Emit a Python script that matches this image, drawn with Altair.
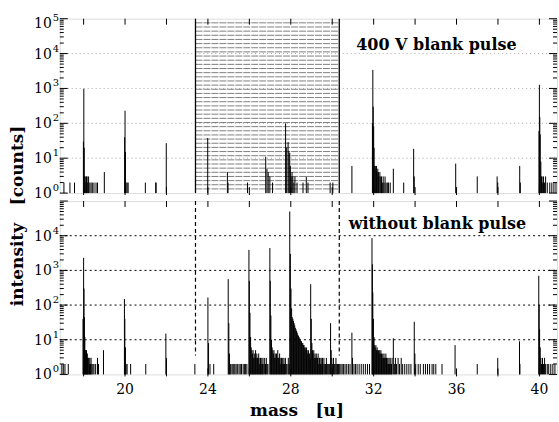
import altair as alt
import pandas as pd

# ---------------- data ----------------
# upper panel: 400 V blank pulse
top_mass = [17.05, 17.34, 17.56,
            17.99, 18.01, 18.03, 18.05, 18.08, 18.11, 18.14, 18.17, 18.20, 18.24, 18.30, 18.36, 18.42, 18.50, 18.60, 18.67, 19.00,
            19.98, 20.00, 20.02, 20.05, 20.10, 20.15, 20.98, 21.48, 21.50,
            21.99,
            23.99, 24.94, 24.97, 25.91, 26.79, 26.85, 26.91, 26.99, 27.12,
            27.75, 27.80, 27.87, 27.91, 27.95, 27.98, 28.02, 28.06, 28.10, 28.15, 28.20, 28.30, 28.59, 28.75, 28.83, 29.90, 30.03,
            30.95,
            31.94, 31.96, 31.98, 32.00, 32.02, 32.05, 32.08, 32.11, 32.14, 32.17, 32.20, 32.23, 32.26, 32.30, 32.34, 32.38, 32.42,
            32.46, 32.50, 32.55, 32.60, 32.66, 32.72, 32.80, 32.95, 33.45,
            33.93, 33.96, 35.96, 37.00, 37.96, 37.99, 39.05, 39.08,
            39.98, 40.00, 40.02, 40.04, 40.07, 40.10, 40.13, 40.16, 40.20, 40.25, 40.30, 40.38, 40.50, 40.60, 40.70, 40.80]
top_counts = [2, 2, 2,
              30, 980, 20, 3, 3, 2, 3, 3, 2, 3, 2, 2, 2, 2, 2, 2, 4,
              40, 230, 15, 2, 2, 2, 2, 2, 2,
              27,
              38, 4, 2, 2, 11, 5, 4, 3, 2,
              100, 20, 29, 16, 14, 6, 3, 4, 3, 2, 3, 2, 2, 3, 2, 2, 2,
              6,
              100, 3400, 300, 82, 20, 6, 6, 5, 6, 4, 5, 4, 3, 4, 3, 3, 2,
              3, 2, 3, 2, 2, 2, 2, 5, 2,
              18.5, 3, 7, 3, 3, 2, 6, 2,
              60, 1270, 150, 48, 8, 3, 3, 2, 3, 2, 3, 2, 2, 2, 2, 2]

# lower panel: without blank pulse
bot_mass = [16.95, 17.02, 17.10, 17.26,
            17.97, 18.00, 18.02, 18.04, 18.06, 18.08, 18.10, 18.12, 18.14, 18.16, 18.18, 18.20, 18.22, 18.25, 18.28, 18.30,
            18.33, 18.36, 18.40, 18.45, 18.50, 18.58, 18.67, 18.72, 18.96,
            19.97, 19.99, 20.02, 20.05, 20.10, 20.27, 21.00, 21.97, 22.00, 23.37,
            24.00, 24.03, 24.10, 24.28,
            24.98, 25.01, 25.04, 25.08, 25.12, 25.20, 25.25, 25.30, 25.36, 25.42, 25.50, 25.56, 25.62, 25.70, 25.76, 25.82, 25.88,
            25.98, 26.00, 26.03, 26.06, 26.09, 26.12, 26.15, 26.18, 26.21, 26.24, 26.27, 26.30, 26.33, 26.36, 26.39, 26.42,
            26.45, 26.48, 26.51, 26.54, 26.57, 26.60, 26.63, 26.66, 26.70, 26.74, 26.78, 26.82, 26.86, 26.90,
            26.99, 27.01, 27.04, 27.07, 27.10, 27.13, 27.16, 27.19, 27.22, 27.25, 27.28, 27.31, 27.34, 27.37, 27.40, 27.43,
            27.46, 27.49, 27.52, 27.55, 27.58, 27.61, 27.64, 27.67, 27.70, 27.74, 27.78, 27.82, 27.88, 27.92,
            27.95, 27.98, 28.01, 28.04, 28.07, 28.10, 28.13, 28.16, 28.19, 28.22, 28.25, 28.28, 28.31, 28.34, 28.37, 28.40,
            28.43, 28.46, 28.49, 28.52, 28.55, 28.58, 28.61, 28.64, 28.67, 28.70, 28.73, 28.76, 28.79, 28.82, 28.85, 28.88,
            28.91, 28.94,
            28.96, 28.99, 29.02, 29.05, 29.08, 29.11, 29.14, 29.17, 29.20, 29.23, 29.26, 29.29, 29.32, 29.35, 29.38, 29.41,
            29.44, 29.47, 29.50, 29.53, 29.56, 29.60, 29.64, 29.68, 29.72, 29.76, 29.80, 29.84, 29.88,
            29.92, 29.95, 29.98, 30.02, 30.06, 30.10, 30.14, 30.18, 30.22, 30.26, 30.30, 30.36, 30.42, 30.48, 30.55, 30.62,
            30.70, 30.78, 30.86,
            30.95, 30.98, 31.05, 31.12, 31.20, 31.30, 31.40, 31.50, 31.60, 31.70, 31.80,
            31.92, 31.94, 31.96, 31.99, 32.02, 32.05, 32.08, 32.11, 32.14, 32.17, 32.20, 32.23, 32.26, 32.29, 32.32, 32.35,
            32.38, 32.41, 32.44, 32.47, 32.50, 32.53, 32.56, 32.59, 32.62, 32.65, 32.68, 32.71, 32.74, 32.77, 32.80, 32.83,
            32.86, 32.89, 32.95, 33.00, 33.05, 33.10, 33.18, 33.25, 33.33, 33.40, 33.50, 33.60, 33.70, 33.80,
            33.96, 33.99, 34.03, 34.15, 34.25, 34.40, 34.50, 34.60, 34.70, 34.82, 34.90, 35.00, 35.30,
            35.93, 37.00, 37.99, 39.04, 39.06,
            39.97, 39.99, 40.01, 40.04, 40.07, 40.10, 40.15, 40.20, 40.25, 40.30, 40.38, 40.45, 40.55, 40.65, 40.75]
bot_counts = [2, 2, 2, 2,
              40, 2300, 300, 45, 12, 5, 5, 4, 5, 3, 4, 3, 3, 3, 2, 3,
              2, 3, 2, 2, 2, 2, 3, 2, 5,
              150, 40, 6, 2, 2, 2, 2, 15, 3, 2,
              165, 8, 2, 2,
              560, 30, 4, 2, 2, 2, 2, 2, 2, 2, 2, 2, 2, 2, 2, 2, 2,
              3900, 500, 60, 12, 6, 5, 4, 5, 3, 4, 3, 5, 3, 4, 3, 3,
              4, 2, 3, 3, 2, 3, 2, 3, 2, 3, 2, 3, 2, 2,
              4400, 500, 50, 10, 6, 5, 4, 5, 3, 4, 3, 4, 3, 5, 3, 3,
              4, 2, 3, 3, 2, 3, 2, 3, 2, 3, 2, 2, 3, 2,
              50000, 3000, 300, 80, 45, 40, 35, 30, 26, 22, 20, 18, 16, 14, 13, 12,
              11, 10, 9, 9, 8, 8, 7, 7, 6, 6, 5, 6, 5, 4, 5, 4,
              4, 3,
              400, 40, 8, 5, 4, 5, 3, 4, 3, 4, 3, 3, 4, 2, 3, 3,
              2, 3, 2, 3, 2, 3, 2, 2, 3, 2, 2, 2, 2,
              30, 5, 3, 2, 3, 2, 2, 3, 2, 2, 2, 2, 2, 2, 2, 2,
              2, 2, 2,
              16, 3, 2, 2, 2, 2, 2, 2, 2, 2, 2,
              8500, 1500, 230, 40, 12, 7, 6, 7, 5, 6, 5, 5, 4, 5, 4, 5,
              4, 3, 4, 3, 4, 3, 3, 4, 3, 2, 3, 2, 3, 2, 3, 2,
              2, 3, 11, 2, 3, 2, 3, 2, 3, 2, 2, 2, 2, 2,
              33, 4, 2, 2, 2, 2, 2, 2, 2, 2, 2, 2, 2,
              7, 2, 3, 9, 2,
              700, 100, 20, 6, 3, 2, 3, 2, 3, 2, 2, 2, 2, 2, 2]

blanked_range = [23.40, 30.34]          # mass window blanked by the pulse
x_tick_values = [18, 20, 22, 24, 26, 28, 30, 32, 34, 36, 38, 40]
x_label_values = [20, 24, 28, 32, 36, 40]
decades = [1, 10, 100, 1000, 10000, 100000]
exponents = ["0", "1", "2", "3", "4", "5"]
minor_values = [m * d for d in [1, 10, 100, 1000, 10000] for m in range(2, 10)]

# ---------------- styling ----------------
W, H_TOP, H_BOT = 499, 175, 174
SERIF = "DejaVu Serif"
NB = "\u00a0"
x_scale = alt.Scale(domain=[16.85, 40.85], nice=False, zero=False)
y_scale = alt.Scale(type="log", domain=[1, 100000], nice=False)


def spectrum(mass, counts):
    df = pd.DataFrame({"mass": mass, "counts": counts, "base": [1] * len(mass)})
    return alt.Chart(df).mark_rule(color="black", strokeWidth=1).encode(
        x=alt.X("mass:Q", scale=x_scale, axis=None),
        y=alt.Y("counts:Q", scale=y_scale, axis=None),
        y2="base:Q",
    )


def grid(color, dash):
    df = pd.DataFrame({"v": decades[1:-1]})
    return alt.Chart(df).mark_rule(color=color, strokeWidth=1, strokeDash=dash).encode(
        y=alt.Y("v:Q", scale=y_scale, axis=None), x=alt.value(0), x2=alt.value(W))


def y_labels(n_labels, shift_top):
    df = pd.DataFrame({"v": decades[:n_labels], "e": exponents[:n_labels]})
    layers = []
    for sel, extra in [("datum.v < 50000", 0), ("datum.v >= 50000", shift_top)]:
        base = alt.Chart(df).transform_filter(sel)
        layers.append(base.mark_text(font=SERIF, fontSize=14, color="black", align="right",
                                     baseline="middle", dy=1 + extra).encode(
            y=alt.Y("v:Q", scale=y_scale, axis=None), x=alt.value(-8), text=alt.value("10")))
        layers.append(base.mark_text(font=SERIF, fontSize=10, color="black", align="left",
                                     baseline="middle", dy=-5 + extra).encode(
            y=alt.Y("v:Q", scale=y_scale, axis=None), x=alt.value(-7), text="e:N"))
    return layers


def frame_ticks(height):
    xt = pd.DataFrame({"x": x_tick_values})
    bot = alt.Chart(xt).mark_rule(color="black", strokeWidth=1).encode(
        x=alt.X("x:Q", scale=x_scale, axis=None), y=alt.value(height + 2), y2=alt.value(height - 6))
    top = alt.Chart(xt).mark_rule(color="black", strokeWidth=1).encode(
        x=alt.X("x:Q", scale=x_scale, axis=None), y=alt.value(0), y2=alt.value(6))
    mn = pd.DataFrame({"v": minor_values})
    mj = pd.DataFrame({"v": decades})
    layers = [bot, top]
    for df, ln in [(mn, 4), (mj, 8)]:
        layers.append(alt.Chart(df).mark_rule(color="black", strokeWidth=1).encode(
            y=alt.Y("v:Q", scale=y_scale, axis=None), x=alt.value(0), x2=alt.value(ln)))
        layers.append(alt.Chart(df).mark_rule(color="black", strokeWidth=1).encode(
            y=alt.Y("v:Q", scale=y_scale, axis=None), x=alt.value(W), x2=alt.value(W - ln)))
    return layers


def label(text, x, y, size=16, angle=0):
    return alt.Chart(pd.DataFrame({"t": [text]})).mark_text(
        font=SERIF, fontWeight="bold", fontSize=size, color="black", angle=angle,
        align="center", baseline="middle").encode(x=alt.value(x), y=alt.value(y), text="t:N")


# ---------------- upper panel ----------------
hatch_levels = [10 ** (5 * i / 42) for i in range(1, 42)]
hatch_df = pd.DataFrame({"lvl": hatch_levels, "x1": [blanked_range[0]] * 41, "x2": [blanked_range[1]] * 41})
hatch = alt.Chart(hatch_df).mark_rule(color="#808080", strokeWidth=1, strokeDash=[7, 1]).encode(
    x=alt.X("x1:Q", scale=x_scale, axis=None), x2="x2:Q",
    y=alt.Y("lvl:Q", scale=y_scale, axis=None))
bdf = pd.DataFrame({"x": blanked_range})
borders = alt.Chart(bdf).mark_rule(color="black", strokeWidth=1.3).encode(
    x=alt.X("x:Q", scale=x_scale, axis=None), y=alt.value(0), y2=alt.value(H_TOP))

top = alt.layer(grid("#a8a8a8", [1, 3]), hatch, borders, spectrum(top_mass, top_counts),
                *frame_ticks(H_TOP), *y_labels(6, 4),
                label("400 V blank pulse", 378, 26)).properties(width=W, height=H_TOP)

# ---------------- lower panel ----------------
dash_df = pd.DataFrame({"x": blanked_range, "top": [100000, 100000], "bottom": [3.5, 3.5]})
dashes = alt.Chart(dash_df).mark_rule(color="black", strokeWidth=1.2, strokeDash=[4, 3]).encode(
    x=alt.X("x:Q", scale=x_scale, axis=None),
    y=alt.Y("top:Q", scale=y_scale, axis=None), y2="bottom:Q")
xl_df = pd.DataFrame({"x": x_label_values})
x_labels = alt.Chart(xl_df).mark_text(font=SERIF, fontSize=14, color="black", align="center",
                                      baseline="middle").encode(
    x=alt.X("x:Q", scale=x_scale, axis=None), y=alt.value(H_BOT + 16), text="x:Q")

bottom = alt.layer(grid("black", [2, 3]), spectrum(bot_mass, bot_counts), dashes, *frame_ticks(H_BOT),
                   *y_labels(5, 0), x_labels,
                   label("without blank pulse", 379, 23),
                   label("intensity" + NB * 3 + "[counts]", -42, 15, size=17, angle=270),
                   label("mass" + NB * 3 + "[u]", 238, 211, size=17)).properties(width=W, height=H_BOT)

chart = alt.vconcat(top, bottom, spacing=8, bounds="flush").properties(
    padding={"left": 8, "top": 11, "right": 1, "bottom": 2}
).configure_view(stroke="black", strokeWidth=1.5).configure(background="white")

chart.save("out.html", embed_options={"renderer": "svg", "actions": False})
